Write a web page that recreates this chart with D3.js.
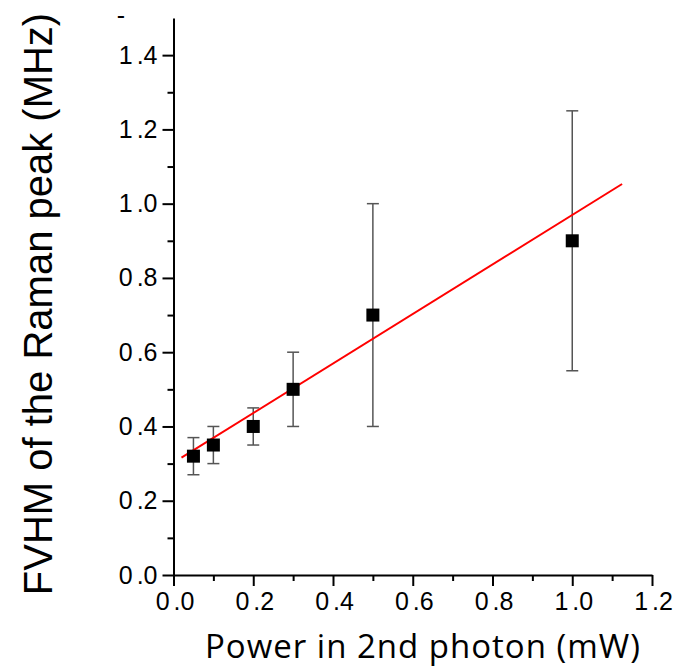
<!DOCTYPE html>
<html lang="en">
<head>
    <meta charset="UTF-8">
    <title>FVHM of the Raman peak vs power</title>
    <style>
        body {
            margin: 0;
            background-color: #ffffff;
        }

        .axis text {
            font-family: "Liberation Sans", Arial, sans-serif;
            font-size: 25px;
            fill: #000;
        }

        .axis line, .axis path {
            fill: none;
            stroke: #000;
            stroke-width: 2px;
        }
    </style>
    <script src="https://d3js.org/d3.v7.min.js"></script>
</head>
<body>
<div id="chart"></div>

<script>
    // data
    var power = [0.05, 0.1, 0.2, 0.3, 0.5, 1.0];
    var fvhm = [0.32, 0.35, 0.40, 0.50, 0.70, 0.90];
    var errLow = [0.27, 0.30, 0.35, 0.40, 0.40, 0.55];
    var errHigh = [0.37, 0.40, 0.45, 0.60, 1.00, 1.25];
    // linear fit, two end points
    var fitX = [0.02, 1.125];
    var fitY = [0.316, 1.053];
    var xTicks = [0.0, 0.2, 0.4, 0.6, 0.8, 1.0, 1.2];
    var yTicks = [0.0, 0.2, 0.4, 0.6, 0.8, 1.0, 1.2, 1.4];

    var width = 677, height = 669;
    var x0 = 173.5, x1 = 652, y0 = 575, y1 = 18;

    var svg = d3.select("#chart")
        .append("svg")
        .attr("width", width)
        .attr("height", height);

    var x = d3.scaleLinear().domain([0, 1.2]).range([x0, x1]);
    var y = d3.scaleLinear().domain([0, 1.5]).range([y0, y1]);
    var fmt = d3.format(".1f");

    // the original labels have a gap between the first digit and the dot
    function spaced(sel) {
        sel.each(function (d) {
            var s = fmt(d);
            var t = d3.select(this).text(null);
            t.append("tspan").text(s.slice(0, 1));
            t.append("tspan").attr("dx", 4).text(s.slice(1));
        });
    }

    // minor ticks
    var xMinor = d3.range(0.1, 1.2, 0.2);
    var yMinor = d3.range(0.1, 1.5, 0.2);

    svg.append("g")
        .attr("class", "axis")
        .attr("transform", "translate(0," + y0 + ")")
        .call(d3.axisBottom(x).tickValues(xMinor).tickSize(6).tickFormat(""))
        .select(".domain").remove();

    svg.append("g")
        .attr("class", "axis")
        .attr("transform", "translate(" + x0 + ",0)")
        .call(d3.axisLeft(y).tickValues(yMinor).tickSize(6).tickFormat(""))
        .select(".domain").remove();

    var xAxis = svg.append("g")
        .attr("class", "axis")
        .attr("transform", "translate(0," + y0 + ")")
        .call(d3.axisBottom(x).tickValues(xTicks).tickSize(11).tickSizeOuter(0)
            .tickPadding(4).tickFormat(fmt));
    xAxis.selectAll("text").attr("dy", "0.78em").attr("dx", 1).call(spaced);

    var yAxis = svg.append("g")
        .attr("class", "axis")
        .attr("transform", "translate(" + x0 + ",0)")
        .call(d3.axisLeft(y).tickValues(yTicks).tickSize(11).tickSizeOuter(0)
            .tickPadding(5).tickFormat(fmt));
    yAxis.selectAll("text").call(spaced);

    // cut-off label at the top of the y axis
    svg.append("text")
        .attr("x", 121)
        .attr("y", 24)
        .attr("text-anchor", "middle")
        .style("font-family", "Liberation Sans, Arial, sans-serif")
        .style("font-size", "25px")
        .text("-");

    // error bars
    var bars = svg.append("g").attr("class", "errors");
    power.forEach(function (p, i) {
        var cx = x(p);
        bars.append("line")
            .attr("x1", cx).attr("x2", cx)
            .attr("y1", y(errLow[i])).attr("y2", y(errHigh[i]))
            .style("stroke", "#555").style("stroke-width", 1.5);
        [errLow[i], errHigh[i]].forEach(function (v) {
            bars.append("line")
                .attr("x1", cx - 6).attr("x2", cx + 6)
                .attr("y1", y(v)).attr("y2", y(v))
                .style("stroke", "#555").style("stroke-width", 1.5);
        });
    });

    // fit line
    svg.append("line")
        .attr("x1", x(fitX[0])).attr("y1", y(fitY[0]))
        .attr("x2", x(fitX[1])).attr("y2", y(fitY[1]))
        .style("stroke", "#ff0000")
        .style("stroke-width", 2);

    // markers
    svg.append("g")
        .selectAll("rect")
        .data(power)
        .enter().append("rect")
        .attr("x", function (d) { return x(d) - 6.5; })
        .attr("y", function (d, i) { return y(fvhm[i]) - 6.5; })
        .attr("width", 13)
        .attr("height", 13)
        .style("fill", "#000");

    // axis titles
    svg.append("text")
        .attr("x", 205)
        .attr("y", 658)
        .attr("textLength", 435)
        .style("font-family", "Open Sans, sans-serif")
        .style("font-size", "33px")
        .text("Power in 2nd photon (mW)");

    svg.append("text")
        .attr("transform", "translate(52,304) rotate(-90)")
        .attr("text-anchor", "middle")
        .style("font-family", "Liberation Sans, Arial, sans-serif")
        .style("font-size", "40px")
        .text("FVHM of the Raman peak (MHz)");
</script>
</body>
</html>
